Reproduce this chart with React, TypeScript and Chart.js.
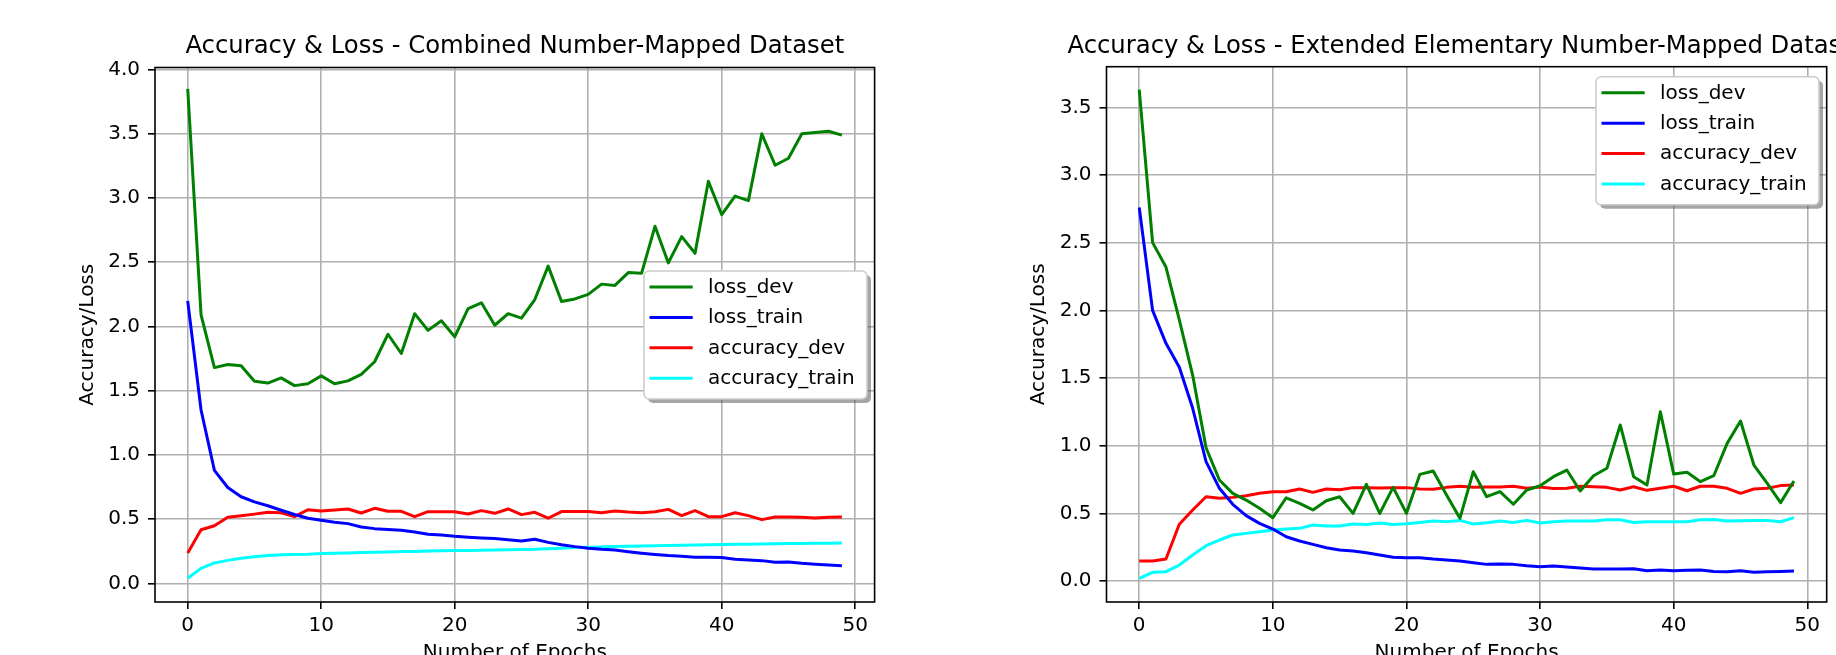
import React, { useEffect, useRef } from "react";
import { Chart, registerables } from "chart.js";

Chart.register(...registerables);

// ---------------- data ----------------
const epochs = [
  0, 1, 2, 3, 4, 5, 6, 7, 8, 9, 10, 11, 12, 13, 14, 15, 16, 17, 18, 19, 20, 21, 22, 23, 24,
  25, 26, 27, 28, 29, 30, 31, 32, 33, 34, 35, 36, 37, 38, 39, 40, 41, 42, 43, 44, 45, 46, 47, 48, 49,
];
const xTicks = [0, 10, 20, 30, 40, 50];
const yTicksCombined = [0, 0.5, 1.0, 1.5, 2.0, 2.5, 3.0, 3.5, 4.0];
const yTicksExtended = [0, 0.5, 1.0, 1.5, 2.0, 2.5, 3.0, 3.5];

const seriesLabels = ["loss_dev", "loss_train", "accuracy_dev", "accuracy_train"];
const seriesColors = ["#008000", "#0000ff", "#ff0000", "#00ffff"];

const titleCombined = "Accuracy & Loss - Combined Number-Mapped Dataset";
const titleExtended = "Accuracy & Loss - Extended Elementary Number-Mapped Dataset";
const xAxisLabel = "Number of Epochs";
const yAxisLabel = "Accuracy/Loss";

// Combined Number-Mapped Dataset
const lossDevCombined = [
  3.85, 2.09, 1.68, 1.705, 1.695, 1.574, 1.56, 1.6, 1.54, 1.555,
  1.616, 1.555, 1.577, 1.627, 1.726, 1.94, 1.79, 2.1, 1.97, 2.045,
  1.92, 2.14, 2.185, 2.01, 2.1, 2.065, 2.21, 2.47, 2.195, 2.215,
  2.25, 2.33, 2.32, 2.42, 2.415, 2.78, 2.495, 2.7, 2.57, 3.13,
  2.87, 3.015, 2.98, 3.5, 3.255, 3.31, 3.5, 3.51, 3.52, 3.49,
];
const lossTrainCombined = [
  2.2, 1.35, 0.88, 0.747, 0.675, 0.635, 0.605, 0.57, 0.537, 0.508,
  0.492, 0.477, 0.466, 0.44, 0.427, 0.42, 0.415, 0.4, 0.384, 0.377,
  0.367, 0.36, 0.355, 0.35, 0.341, 0.33, 0.345, 0.32, 0.302, 0.287,
  0.275, 0.266, 0.26, 0.247, 0.235, 0.225, 0.217, 0.212, 0.205, 0.204,
  0.202, 0.188, 0.183, 0.178, 0.166, 0.168, 0.157, 0.15, 0.144, 0.138,
];
const accDevCombined = [
  0.238, 0.418, 0.449, 0.515, 0.528, 0.54, 0.554, 0.551, 0.52, 0.574,
  0.564, 0.572, 0.58, 0.549, 0.585, 0.562, 0.562, 0.52, 0.559, 0.559,
  0.559, 0.541, 0.567, 0.546, 0.58, 0.536, 0.554, 0.508, 0.56, 0.56,
  0.56, 0.55, 0.564, 0.556, 0.551, 0.559, 0.577, 0.528, 0.567, 0.52,
  0.52, 0.551, 0.528, 0.497, 0.518, 0.518, 0.515, 0.51, 0.515, 0.518,
];
const accTrainCombined = [
  0.041, 0.118, 0.16, 0.18, 0.197, 0.208, 0.218, 0.223, 0.226, 0.228,
  0.233, 0.236, 0.238, 0.241, 0.243, 0.246, 0.25, 0.25, 0.252, 0.254,
  0.256, 0.257, 0.259, 0.261, 0.263, 0.265, 0.266, 0.27, 0.275, 0.28,
  0.283, 0.285, 0.288, 0.29, 0.292, 0.294, 0.296, 0.298, 0.3, 0.302,
  0.303, 0.305, 0.306, 0.308, 0.309, 0.311, 0.312, 0.313, 0.314, 0.315,
];

// Extended Elementary Number-Mapped Dataset
const lossDevExtended = [
  3.63, 2.5, 2.32, 1.93, 1.52, 0.985, 0.746, 0.648, 0.598, 0.537,
  0.468, 0.615, 0.574, 0.525, 0.593, 0.623, 0.5, 0.714, 0.5, 0.692,
  0.5, 0.788, 0.813, 0.635, 0.463, 0.808, 0.623, 0.66, 0.567, 0.672,
  0.704, 0.771, 0.82, 0.665, 0.778, 0.833, 1.153, 0.771, 0.709, 1.251,
  0.79, 0.803, 0.734, 0.778, 1.017, 1.182, 0.857, 0.722, 0.579, 0.739,
];
const lossTrainExtended = [
  2.76, 2.0, 1.756, 1.58, 1.276, 0.882, 0.685, 0.567, 0.483, 0.426,
  0.384, 0.327, 0.296, 0.271, 0.246, 0.229, 0.222, 0.209, 0.192, 0.175,
  0.172, 0.172, 0.162, 0.155, 0.148, 0.135, 0.123, 0.126, 0.123, 0.113,
  0.106, 0.111, 0.103, 0.096, 0.089, 0.089, 0.089, 0.091, 0.076, 0.081,
  0.076, 0.079, 0.081, 0.071, 0.069, 0.076, 0.064, 0.069, 0.071, 0.074,
];
const accDevExtended = [
  0.148, 0.148, 0.163, 0.419, 0.525, 0.623, 0.611, 0.618, 0.63, 0.648,
  0.66, 0.66, 0.68, 0.655, 0.68, 0.675, 0.69, 0.69, 0.687, 0.69,
  0.69, 0.68, 0.678, 0.692, 0.7, 0.692, 0.695, 0.695, 0.7, 0.685,
  0.695, 0.683, 0.685, 0.7, 0.697, 0.692, 0.672, 0.697, 0.67, 0.685,
  0.7, 0.667, 0.7, 0.7, 0.685, 0.648, 0.68, 0.685, 0.705, 0.709,
];
const accTrainExtended = [
  0.02, 0.064, 0.069, 0.118, 0.192, 0.261, 0.303, 0.34, 0.352, 0.364,
  0.377, 0.384, 0.389, 0.414, 0.406, 0.406, 0.421, 0.418, 0.429, 0.418,
  0.423, 0.433, 0.443, 0.438, 0.448, 0.421, 0.431, 0.443, 0.433, 0.448,
  0.428, 0.438, 0.443, 0.443, 0.443, 0.453, 0.453, 0.433, 0.438, 0.438,
  0.438, 0.438, 0.453, 0.455, 0.443, 0.446, 0.448, 0.448, 0.438, 0.468,
];

// ---------------- layout / style ----------------
const FONT = "'DejaVu Sans', 'Liberation Sans', sans-serif";
const CANVAS_W = 918;
const CANVAS_H = 700;
const FIG_W = 1836;
const FIG_H = 655;

type Panel = {
  offsetX: number;
  title: string;
  series: number[][];
  yMin: number;
  yMax: number;
  yTicks: number[];
  area: { left: number; right: number; top: number; bottom: number };
  yTitleCenter: number;
  legend: { x: number; y: number; w: number; h: number };
};

const panels: Panel[] = [
  {
    offsetX: 0,
    title: titleCombined,
    series: [lossDevCombined, lossTrainCombined, accDevCombined, accTrainCombined],
    yMin: -0.144,
    yMax: 4.016,
    yTicks: yTicksCombined,
    area: { left: 155, right: 874.6, top: 67.5, bottom: 602 },
    yTitleCenter: 87.5,
    legend: { x: 644, y: 271, w: 223, h: 128 },
  },
  {
    offsetX: 918,
    title: titleExtended,
    series: [lossDevExtended, lossTrainExtended, accDevExtended, accTrainExtended],
    yMin: -0.155,
    yMax: 3.8,
    yTicks: yTicksExtended,
    area: { left: 188.5, right: 908.7, top: 66.7, bottom: 602 },
    yTitleCenter: 121,
    legend: { x: 678, y: 76.8, w: 223, h: 128 },
  },
];

function roundRectPath(ctx: CanvasRenderingContext2D, x: number, y: number, w: number, h: number, r: number) {
  ctx.beginPath();
  ctx.moveTo(x + r, y);
  ctx.lineTo(x + w - r, y);
  ctx.arcTo(x + w, y, x + w, y + r, r);
  ctx.lineTo(x + w, y + h - r);
  ctx.arcTo(x + w, y + h, x + w - r, y + h, r);
  ctx.lineTo(x + r, y + h);
  ctx.arcTo(x, y + h, x, y + h - r, r);
  ctx.lineTo(x, y + r);
  ctx.arcTo(x, y, x + r, y, r);
  ctx.closePath();
}

function makeDecorPlugin(panel: Panel) {
  return {
    id: "mplDecor",
    afterDraw(chart: any) {
      const ctx: CanvasRenderingContext2D = chart.ctx;
      const ca = chart.chartArea;
      ctx.save();
      // spines
      ctx.strokeStyle = "#000000";
      ctx.lineWidth = 1.6;
      ctx.strokeRect(ca.left, ca.top, ca.right - ca.left, ca.bottom - ca.top);

      // legend
      const lg = panel.legend;
      roundRectPath(ctx, lg.x + 4, lg.y + 4, lg.w, lg.h, 5);
      ctx.fillStyle = "rgba(77,77,77,0.5)";
      ctx.fill();
      roundRectPath(ctx, lg.x, lg.y, lg.w, lg.h, 5);
      ctx.fillStyle = "#ffffff";
      ctx.fill();
      ctx.strokeStyle = "#cccccc";
      ctx.lineWidth = 1.6;
      ctx.stroke();
      ctx.font = `20px ${FONT}`;
      ctx.textAlign = "left";
      ctx.textBaseline = "middle";
      seriesLabels.forEach((lab, k) => {
        const ly = lg.y + 16 + k * 30.4;
        ctx.strokeStyle = seriesColors[k];
        ctx.lineWidth = 3;
        ctx.beginPath();
        ctx.moveTo(lg.x + 5.5, ly);
        ctx.lineTo(lg.x + 48.7, ly);
        ctx.stroke();
        ctx.fillStyle = "#000000";
        ctx.fillText(lab, lg.x + 64, ly + 0.5);
      });

      // title
      ctx.font = `24.3px ${FONT}`;
      ctx.textAlign = "center";
      ctx.textBaseline = "alphabetic";
      ctx.fillStyle = "#000000";
      ctx.fillText(panel.title, (ca.left + ca.right) / 2, 53);
      ctx.restore();
    },
  };
}

function makeChart(canvas: HTMLCanvasElement, panel: Panel) {
  const datasets = panel.series.map((vals, k) => ({
    label: seriesLabels[k],
    data: epochs.map((e, i) => ({ x: e, y: vals[i] })),
    borderColor: seriesColors[k],
    backgroundColor: seriesColors[k],
    borderWidth: 3,
    pointRadius: 0,
    pointHoverRadius: 0,
    tension: 0,
    fill: false,
    borderJoinStyle: "round" as const,
  }));
  const a = panel.area;
  return new Chart(canvas, {
    type: "line",
    data: { datasets },
    plugins: [makeDecorPlugin(panel)],
    options: {
      animation: false,
      responsive: false,
      devicePixelRatio: 1,
      events: [],
      layout: {
        padding: { left: 0, top: a.top, right: CANVAS_W - a.right, bottom: 0 },
      },
      plugins: {
        legend: { display: false },
        title: { display: false },
        tooltip: { enabled: false },
      },
      scales: {
        x: {
          type: "linear",
          min: -2.45,
          max: 51.45,
          afterBuildTicks: (scale: any) => {
            scale.ticks = xTicks.map((v) => ({ value: v }));
          },
          afterFit: (scale: any) => {
            scale.height = CANVAS_H - a.bottom;
          },
          ticks: {
            autoSkip: false,
            maxRotation: 0,
            padding: 5,
            color: "#000000",
            font: { family: FONT, size: 20 },
            callback: (v: any) => String(v),
          },
          grid: {
            color: "#b0b0b0",
            lineWidth: 1.6,
            drawTicks: true,
            tickLength: 7,
            tickColor: "#000000",
            tickWidth: 1.6,
          },
          border: { display: false },
          title: {
            display: true,
            text: xAxisLabel,
            color: "#000000",
            font: { family: FONT, size: 20 },
            padding: { top: 0, bottom: 35.4 },
          },
        },
        y: {
          type: "linear",
          min: panel.yMin,
          max: panel.yMax,
          afterBuildTicks: (scale: any) => {
            scale.ticks = panel.yTicks.map((v) => ({ value: v }));
          },
          afterFit: (scale: any) => {
            scale.width = a.left;
          },
          ticks: {
            autoSkip: false,
            padding: 8,
            color: "#000000",
            font: { family: FONT, size: 20 },
            callback: (v: any) => Number(v).toFixed(1),
          },
          grid: {
            color: "#b0b0b0",
            lineWidth: 1.6,
            drawTicks: true,
            tickLength: 7,
            tickColor: "#000000",
            tickWidth: 1.6,
          },
          border: { display: false },
          title: {
            display: true,
            text: yAxisLabel,
            color: "#000000",
            font: { family: FONT, size: 20 },
            padding: { top: panel.yTitleCenter - 12, bottom: 0 },
          },
        },
      },
    } as any,
  });
}

export default function App() {
  const leftRef = useRef<HTMLCanvasElement>(null);
  const rightRef = useRef<HTMLCanvasElement>(null);

  useEffect(() => {
    const charts: Chart[] = [];
    if (leftRef.current) charts.push(makeChart(leftRef.current, panels[0]));
    if (rightRef.current) charts.push(makeChart(rightRef.current, panels[1]));
    return () => {
      charts.forEach((c) => c.destroy());
    };
  }, []);

  return (
    <div
      style={{
        position: "absolute",
        left: 0,
        top: 0,
        width: FIG_W,
        height: FIG_H,
        overflow: "hidden",
        background: "#ffffff",
      }}
    >
      <canvas
        ref={leftRef}
        width={CANVAS_W}
        height={CANVAS_H}
        style={{ position: "absolute", left: panels[0].offsetX, top: 0, width: CANVAS_W, height: CANVAS_H }}
      />
      <canvas
        ref={rightRef}
        width={CANVAS_W}
        height={CANVAS_H}
        style={{ position: "absolute", left: panels[1].offsetX, top: 0, width: CANVAS_W, height: CANVAS_H }}
      />
    </div>
  );
}
